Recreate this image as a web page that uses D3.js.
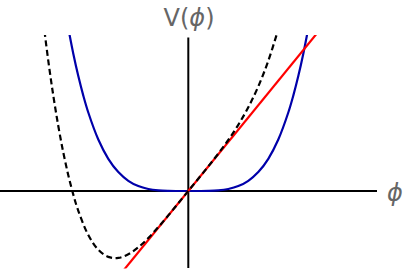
<!DOCTYPE html>
<html>
<head>
<meta charset="utf-8">
<script src="https://cdn.jsdelivr.net/npm/d3@7"></script>
<style>
  body { margin: 0; background: #fff; }
  svg text { font-family: "DejaVu Sans", sans-serif; fill: #666; }
</style>
</head>
<body>
<svg id="chart" width="405" height="271"></svg>
<script>
// points (phi, V)
const bluePhi = [-1.2, -1.15, -1.1, -1.05, -1.0, -0.9, -0.8, -0.7, -0.6, -0.5, -0.4, -0.3, -0.2, -0.1, 0,
                 0.1, 0.2, 0.3, 0.4, 0.5, 0.6, 0.7, 0.8, 0.9, 1.0, 1.05, 1.1, 1.15, 1.2];
const blueV = [1.628, 1.373, 1.149, 0.954, 0.785, 0.515, 0.322, 0.189, 0.102, 0.049, 0.020, 0.006, 0.001, 0.0001, 0,
               0.0001, 0.001, 0.006, 0.020, 0.049, 0.102, 0.189, 0.322, 0.515, 0.785, 0.954, 1.149, 1.373, 1.628];

const dashPhi = [-1.45, -1.4, -1.35, -1.3, -1.25, -1.2, -1.15, -1.1, -1.0, -0.9, -0.8, -0.7, -0.6, -0.5, -0.4,
                 -0.3, -0.2, -0.1, 0, 0.1, 0.2, 0.3, 0.4, 0.5, 0.6, 0.7, 0.8, 0.9];
const dashV = [1.694, 1.301, 0.954, 0.650, 0.385, 0.158, -0.036, -0.198, -0.440, -0.588, -0.659, -0.669, -0.633, -0.563, -0.470,
               -0.361, -0.244, -0.122, 0, 0.123, 0.246, 0.374, 0.510, 0.662, 0.837, 1.046, 1.302, 1.618];

const redPhi = [-0.7, 1.3];
const redV = [-0.858, 1.593];

const svg = d3.select("#chart");

const x = d3.scaleLinear().domain([-1.883, 1.887]).range([0, 377]);
const y = d3.scaleLinear().domain([-0.775, 1.55]).range([268.5, 36]);

svg.append("clipPath").attr("id", "plot")
  .append("rect").attr("x", 0).attr("y", 35).attr("width", 377).attr("height", 233.5);

// axes
svg.append("line")
  .attr("x1", x(-1.883)).attr("x2", x(1.887))
  .attr("y1", y(0)).attr("y2", y(0))
  .attr("stroke", "#000").attr("stroke-width", 2);
svg.append("line")
  .attr("x1", x(0)).attr("x2", x(0))
  .attr("y1", y(-0.77)).attr("y2", y(1.535))
  .attr("stroke", "#000").attr("stroke-width", 2);

const zip = (a, b) => a.map((d, i) => [d, b[i]]);
const line = d3.line().x(d => x(d[0])).y(d => y(d[1])).curve(d3.curveCatmullRom);

const g = svg.append("g").attr("clip-path", "url(#plot)");

g.append("path").datum(zip(bluePhi, blueV))
  .attr("d", line).attr("fill", "none")
  .attr("stroke", "#0000aa").attr("stroke-width", 2.2);

g.append("path").datum(zip(redPhi, redV))
  .attr("d", d3.line().x(d => x(d[0])).y(d => y(d[1])))
  .attr("fill", "none").attr("stroke", "#ff0000").attr("stroke-width", 2.2);

g.append("path").datum(zip(dashPhi, dashV))
  .attr("d", line).attr("fill", "none")
  .attr("stroke", "#000").attr("stroke-width", 2.2)
  .attr("stroke-dasharray", "6,3.5");

// labels
const yLabel = svg.append("text").attr("x", 189).attr("y", 26)
  .attr("text-anchor", "middle").attr("font-size", 24);
yLabel.append("tspan").text("V(");
yLabel.append("tspan").attr("font-style", "italic").text("\u03d5");
yLabel.append("tspan").text(")");

svg.append("text").attr("x", 395).attr("y", 201)
  .attr("text-anchor", "middle").attr("font-size", 24)
  .attr("font-style", "italic").text("\u03d5");
</script>
</body>
</html>
